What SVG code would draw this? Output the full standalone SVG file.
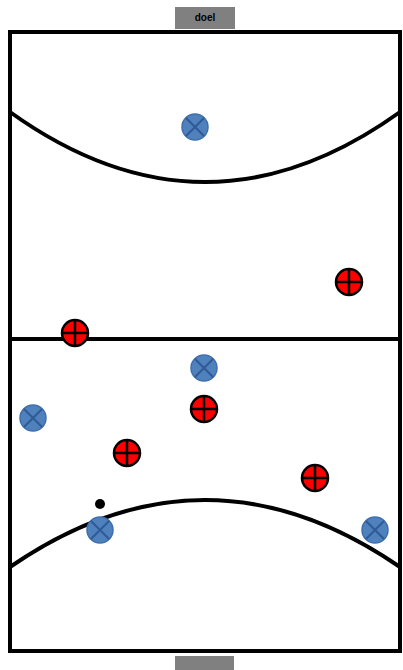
<svg xmlns="http://www.w3.org/2000/svg" width="403" height="670" viewBox="0 0 403 670">
<defs>
<style>
.line{fill:none;stroke:#000;stroke-width:4}
.goal{fill:#808080}
.blue circle{fill:#4f81bd;stroke:#3f6fae;stroke-width:1.5}
.blue path{stroke:#2f5a94;stroke-width:2;fill:none}
.red circle{fill:#ff0000;stroke:#000;stroke-width:2.5}
.red path{stroke:#000;stroke-width:2.5;fill:none}
</style>
<g id="bluePlayer" class="blue"><circle r="13"/><path d="M-9,-9L9,9M9,-9L-9,9"/></g>
<g id="redPlayer" class="red"><circle r="13"/><path d="M-13,0H13M0,-13V13"/></g>
</defs>
<g id="field">
<rect id="goal-top" class="goal" x="175" y="7" width="60" height="22"/>
<text x="205" y="21" font-family="Liberation Sans, Arial, sans-serif" font-size="10" font-weight="bold" text-anchor="middle" fill="#000">doel</text>
<rect id="goal-bottom" class="goal" x="175" y="656" width="59" height="14"/>
<rect class="line" x="10" y="32" width="390" height="619" stroke-width="4.5"/>
<line class="line" x1="10" y1="339" x2="400" y2="339"/>
<path class="line" d="M10,112 Q205,252 400,112"/>
<path class="line" d="M10,567 Q205,433 400,567"/>
</g>
<g id="players">
<use href="#bluePlayer" x="195" y="127"/>
<use href="#bluePlayer" x="204" y="368"/>
<use href="#bluePlayer" x="33" y="418"/>
<use href="#bluePlayer" x="100" y="530"/>
<use href="#bluePlayer" x="375" y="530"/>
<use href="#redPlayer" x="349" y="282"/>
<use href="#redPlayer" x="75" y="333"/>
<use href="#redPlayer" x="204" y="409"/>
<use href="#redPlayer" x="127" y="453"/>
<use href="#redPlayer" x="315" y="478"/>
<circle id="ball" cx="100" cy="504" r="5" fill="#000"/>
</g>
</svg>
